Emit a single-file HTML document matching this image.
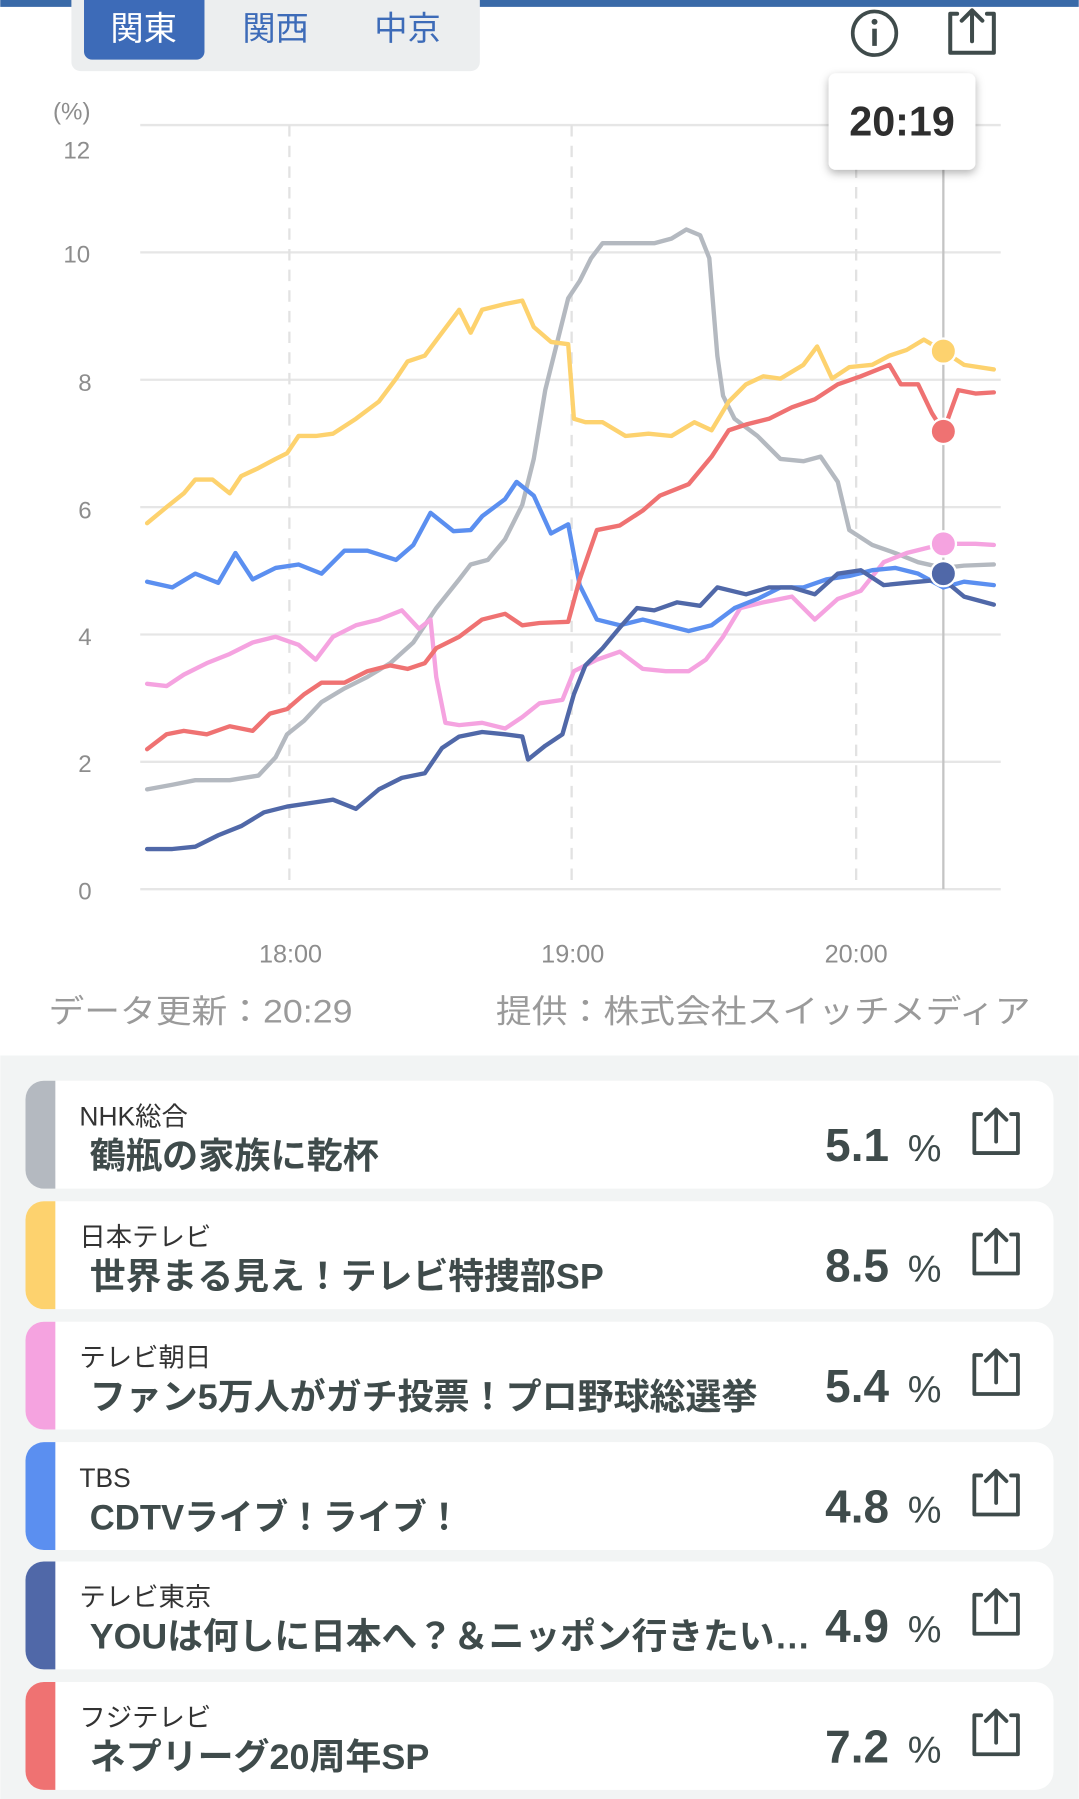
<!DOCTYPE html>
<html><head><meta charset="utf-8"><style>
html,body{margin:0;padding:0;background:#fff;}
svg{display:block;}
text{font-family:"Liberation Sans","Noto Sans CJK JP",sans-serif;}
</style></head><body>
<svg width="1079" height="1799" viewBox="0 0 940 1568" xmlns="http://www.w3.org/2000/svg">
<rect x="0" y="0" width="940" height="1568" fill="#fff"/>
<rect x="0" y="0" width="940" height="6" fill="#3a6aa8"/>
<rect x="62" y="-10" width="356" height="72" rx="8" fill="#eceeef"/>
<rect x="73" y="-10" width="105" height="62" rx="7" fill="#3d6bb8"/>
<text x="125" y="35" font-size="29" fill="#fff" text-anchor="middle">関東</text>
<text x="240" y="35" font-size="29" fill="#3d6bb8" text-anchor="middle">関西</text>
<text x="355" y="35" font-size="29" fill="#3d6bb8" text-anchor="middle">中京</text>
<circle cx="762" cy="29" r="19" fill="none" stroke="#3f4b4b" stroke-width="3.2"/>
<circle cx="762" cy="19" r="2.6" fill="#3f4b4b"/>
<rect x="760" y="25" width="4" height="15" fill="#3f4b4b"/>
<path d="M834 12 H828 V46 H866 V12 H860 M847 36 V9 M838 18 L847 9 L856 18" fill="none" stroke="#3f4b4b" stroke-width="3.5" stroke-linejoin="round" stroke-linecap="round"/>
<g stroke="#e6e6e6" stroke-width="2">
<line x1="122" y1="109" x2="872" y2="109"/>
<line x1="122" y1="220" x2="872" y2="220"/>
<line x1="122" y1="331" x2="872" y2="331"/>
<line x1="122" y1="442" x2="872" y2="442"/>
<line x1="122" y1="553" x2="872" y2="553"/>
<line x1="122" y1="664" x2="872" y2="664"/>
<line x1="122" y1="775" x2="872" y2="775"/>
</g>
<g stroke="#e2e2e2" stroke-width="2" stroke-dasharray="10,8">
<line x1="252" y1="109" x2="252" y2="775"/>
<line x1="498" y1="109" x2="498" y2="775"/>
<line x1="746" y1="109" x2="746" y2="775"/>
</g>
<line x1="822" y1="148" x2="822" y2="775" stroke="#c4c4c4" stroke-width="2"/>
<g font-size="21" fill="#8d8d8d">
<text x="46" y="104">(%)</text>
<text x="55" y="138">12</text>
<text x="55" y="229">10</text>
<text x="68" y="341">8</text>
<text x="68" y="452">6</text>
<text x="68" y="562">4</text>
<text x="68" y="673">2</text>
<text x="68" y="784">0</text>
</g>
<g font-size="22" fill="#8d8d8d">
<text x="253" y="839" text-anchor="middle">18:00</text>
<text x="499" y="839" text-anchor="middle">19:00</text>
<text x="746" y="839" text-anchor="middle">20:00</text>
</g>
<g fill="none" stroke-width="3.8" stroke-linejoin="round" stroke-linecap="round">
<polyline stroke="#b4b9c0" points="128,688 150,684 170,680 200,680 225,676 240,660 250,640 265,628 280,612 300,600 320,590 340,578 360,560 380,530 400,505 410,492 425,488 440,470 455,440 465,400 475,340 485,300 495,260 505,245 515,225 525,212 540,212 555,212 570,212 585,208 598,200 610,205 618,225 625,310 630,345 640,365 660,380 680,400 700,402 715,398 730,420 740,462 760,475 780,482 800,490 822,495 840,493 866,492"/>
<polyline stroke="#fdd26e" points="128,456 145,442 160,430 170,418 185,418 200,430 210,415 225,408 240,400 250,395 260,380 275,380 290,378 310,365 330,350 345,330 355,315 370,310 385,290 400,270 410,290 420,270 440,265 455,262 465,285 480,298 495,300 500,365 510,368 525,368 545,380 565,378 585,380 605,368 620,375 635,350 650,335 665,328 680,330 700,318 712,302 725,330 740,320 760,318 775,310 790,305 805,296 822,306 840,318 866,322"/>
<polyline stroke="#f5a3e0" points="128,596 145,598 160,588 180,578 200,570 220,560 240,555 260,562 275,575 290,555 310,545 330,540 350,532 365,548 375,540 380,590 388,630 400,632 420,630 440,635 455,625 470,613 490,610 500,585 520,575 540,568 560,583 580,585 600,585 615,575 630,555 645,530 665,525 690,520 710,540 730,522 750,515 770,490 790,482 822,474 850,474 866,475"/>
<polyline stroke="#5b8ff0" points="128,507 150,512 170,500 190,508 205,482 220,505 240,495 260,492 280,500 300,480 320,480 345,488 360,475 375,447 395,463 410,462 420,450 440,435 450,420 465,432 480,465 495,457 505,510 520,540 540,545 560,540 580,545 600,550 620,545 640,530 660,522 680,512 700,512 720,505 740,502 760,497 780,495 800,500 822,512 840,507 866,510"/>
<polyline stroke="#5068a8" points="128,740 150,740 170,738 190,728 210,720 230,708 250,703 270,700 290,697 310,705 330,688 350,678 370,674 385,652 400,642 420,638 440,640 455,642 460,662 475,650 490,640 500,605 510,580 525,565 540,547 555,530 570,532 590,525 610,528 625,512 650,518 670,512 690,512 710,518 730,500 750,497 770,510 790,508 822,505 840,520 866,527"/>
<polyline stroke="#ef7272" points="128,653 145,640 160,637 180,640 200,633 220,637 235,622 250,618 265,605 280,595 300,595 320,585 340,580 355,583 370,578 380,565 400,555 420,540 440,535 455,545 470,543 495,542 505,505 520,462 540,458 560,445 575,432 600,422 620,398 635,375 650,370 670,365 690,355 710,348 730,335 750,328 775,318 785,335 800,335 812,360 822,376 835,340 850,343 866,342"/>
</g>
<g stroke="#fff" stroke-width="2">
<circle cx="822" cy="306" r="11" fill="#fdd26e"/>
<circle cx="822" cy="376" r="11" fill="#ef7272"/>
<circle cx="822" cy="474" r="11" fill="#f5a3e0"/>
<circle cx="822" cy="500" r="11" fill="#5068a8"/>
</g>
<defs><filter id="sh" x="-30%" y="-30%" width="160%" height="160%"><feDropShadow dx="0" dy="3" stdDeviation="4" flood-color="#000" flood-opacity="0.3"/></filter></defs>
<rect x="722" y="64" width="128" height="84" rx="6" fill="#fff" filter="url(#sh)"/>
<text x="786" y="118" font-size="36" font-weight="bold" fill="#2e2e2e" text-anchor="middle">20:19</text>
<g font-size="28" fill="#9a9a9a">
<text x="42" y="891" textLength="265" lengthAdjust="spacingAndGlyphs">データ更新：20:29</text>
<text x="432" y="891" textLength="466" lengthAdjust="spacingAndGlyphs">提供：株式会社スイッチメディア</text>
</g>
<rect x="0" y="920" width="940" height="648" fill="#f2f4f4"/>
<g>
<g transform="translate(0,942)">
<rect x="22" y="0" width="896" height="94" rx="16" fill="#fff"/><path d="M38 0 H48 V94 H38 A16 16 0 0 1 22 78 V16 A16 16 0 0 1 38 0Z" fill="#b4b9c0"/>
<text x="69" y="39" font-size="23" fill="#333">NHK総合</text>
<text x="78" y="76" font-size="31" font-weight="bold" fill="#3f4b4b" textLength="252" lengthAdjust="spacingAndGlyphs">鶴瓶の家族に乾杯</text>
<text x="719" y="70" font-size="40" font-weight="bold" fill="#3f4b4b">5.1</text><text x="791" y="70" font-size="33" fill="#3f4b4b">%</text>
<path d="M855 29 H849 V63 H887 V29 H881 M868 53 V25 M859 34 L868 25 L877 34" fill="none" stroke="#3f4b4b" stroke-width="3.3" stroke-linejoin="round" stroke-linecap="round"/>
</g>
<g transform="translate(0,1047)">
<rect x="22" y="0" width="896" height="94" rx="16" fill="#fff"/><path d="M38 0 H48 V94 H38 A16 16 0 0 1 22 78 V16 A16 16 0 0 1 38 0Z" fill="#fdd26e"/>
<text x="69" y="39" font-size="23" fill="#333">日本テレビ</text>
<text x="78" y="76" font-size="31" font-weight="bold" fill="#3f4b4b" textLength="448" lengthAdjust="spacingAndGlyphs">世界まる見え！テレビ特捜部SP</text>
<text x="719" y="70" font-size="40" font-weight="bold" fill="#3f4b4b">8.5</text><text x="791" y="70" font-size="33" fill="#3f4b4b">%</text>
<path d="M855 29 H849 V63 H887 V29 H881 M868 53 V25 M859 34 L868 25 L877 34" fill="none" stroke="#3f4b4b" stroke-width="3.3" stroke-linejoin="round" stroke-linecap="round"/>
</g>
<g transform="translate(0,1152)">
<rect x="22" y="0" width="896" height="94" rx="16" fill="#fff"/><path d="M38 0 H48 V94 H38 A16 16 0 0 1 22 78 V16 A16 16 0 0 1 38 0Z" fill="#f5a3e0"/>
<text x="69" y="39" font-size="23" fill="#333">テレビ朝日</text>
<text x="78" y="76" font-size="31" font-weight="bold" fill="#3f4b4b" textLength="582" lengthAdjust="spacingAndGlyphs">ファン5万人がガチ投票！プロ野球総選挙</text>
<text x="719" y="70" font-size="40" font-weight="bold" fill="#3f4b4b">5.4</text><text x="791" y="70" font-size="33" fill="#3f4b4b">%</text>
<path d="M855 29 H849 V63 H887 V29 H881 M868 53 V25 M859 34 L868 25 L877 34" fill="none" stroke="#3f4b4b" stroke-width="3.3" stroke-linejoin="round" stroke-linecap="round"/>
</g>
<g transform="translate(0,1257)">
<rect x="22" y="0" width="896" height="94" rx="16" fill="#fff"/><path d="M38 0 H48 V94 H38 A16 16 0 0 1 22 78 V16 A16 16 0 0 1 38 0Z" fill="#5b8ff0"/>
<text x="69" y="39" font-size="23" fill="#333">TBS</text>
<text x="78" y="76" font-size="31" font-weight="bold" fill="#3f4b4b" textLength="324" lengthAdjust="spacingAndGlyphs">CDTVライブ！ライブ！</text>
<text x="719" y="70" font-size="40" font-weight="bold" fill="#3f4b4b">4.8</text><text x="791" y="70" font-size="33" fill="#3f4b4b">%</text>
<path d="M855 29 H849 V63 H887 V29 H881 M868 53 V25 M859 34 L868 25 L877 34" fill="none" stroke="#3f4b4b" stroke-width="3.3" stroke-linejoin="round" stroke-linecap="round"/>
</g>
<g transform="translate(0,1361)">
<rect x="22" y="0" width="896" height="94" rx="16" fill="#fff"/><path d="M38 0 H48 V94 H38 A16 16 0 0 1 22 78 V16 A16 16 0 0 1 38 0Z" fill="#5068a8"/>
<text x="69" y="39" font-size="23" fill="#333">テレビ東京</text>
<text x="78" y="76" font-size="31" font-weight="bold" fill="#3f4b4b" textLength="628" lengthAdjust="spacingAndGlyphs">YOUは何しに日本へ？＆ニッポン行きたい…</text>
<text x="719" y="70" font-size="40" font-weight="bold" fill="#3f4b4b">4.9</text><text x="791" y="70" font-size="33" fill="#3f4b4b">%</text>
<path d="M855 29 H849 V63 H887 V29 H881 M868 53 V25 M859 34 L868 25 L877 34" fill="none" stroke="#3f4b4b" stroke-width="3.3" stroke-linejoin="round" stroke-linecap="round"/>
</g>
<g transform="translate(0,1466)">
<rect x="22" y="0" width="896" height="94" rx="16" fill="#fff"/><path d="M38 0 H48 V94 H38 A16 16 0 0 1 22 78 V16 A16 16 0 0 1 38 0Z" fill="#ef7272"/>
<text x="69" y="39" font-size="23" fill="#333">フジテレビ</text>
<text x="78" y="76" font-size="31" font-weight="bold" fill="#3f4b4b" textLength="296" lengthAdjust="spacingAndGlyphs">ネプリーグ20周年SP</text>
<text x="719" y="70" font-size="40" font-weight="bold" fill="#3f4b4b">7.2</text><text x="791" y="70" font-size="33" fill="#3f4b4b">%</text>
<path d="M855 29 H849 V63 H887 V29 H881 M868 53 V25 M859 34 L868 25 L877 34" fill="none" stroke="#3f4b4b" stroke-width="3.3" stroke-linejoin="round" stroke-linecap="round"/>
</g>
</g>
</svg>
</body></html>
